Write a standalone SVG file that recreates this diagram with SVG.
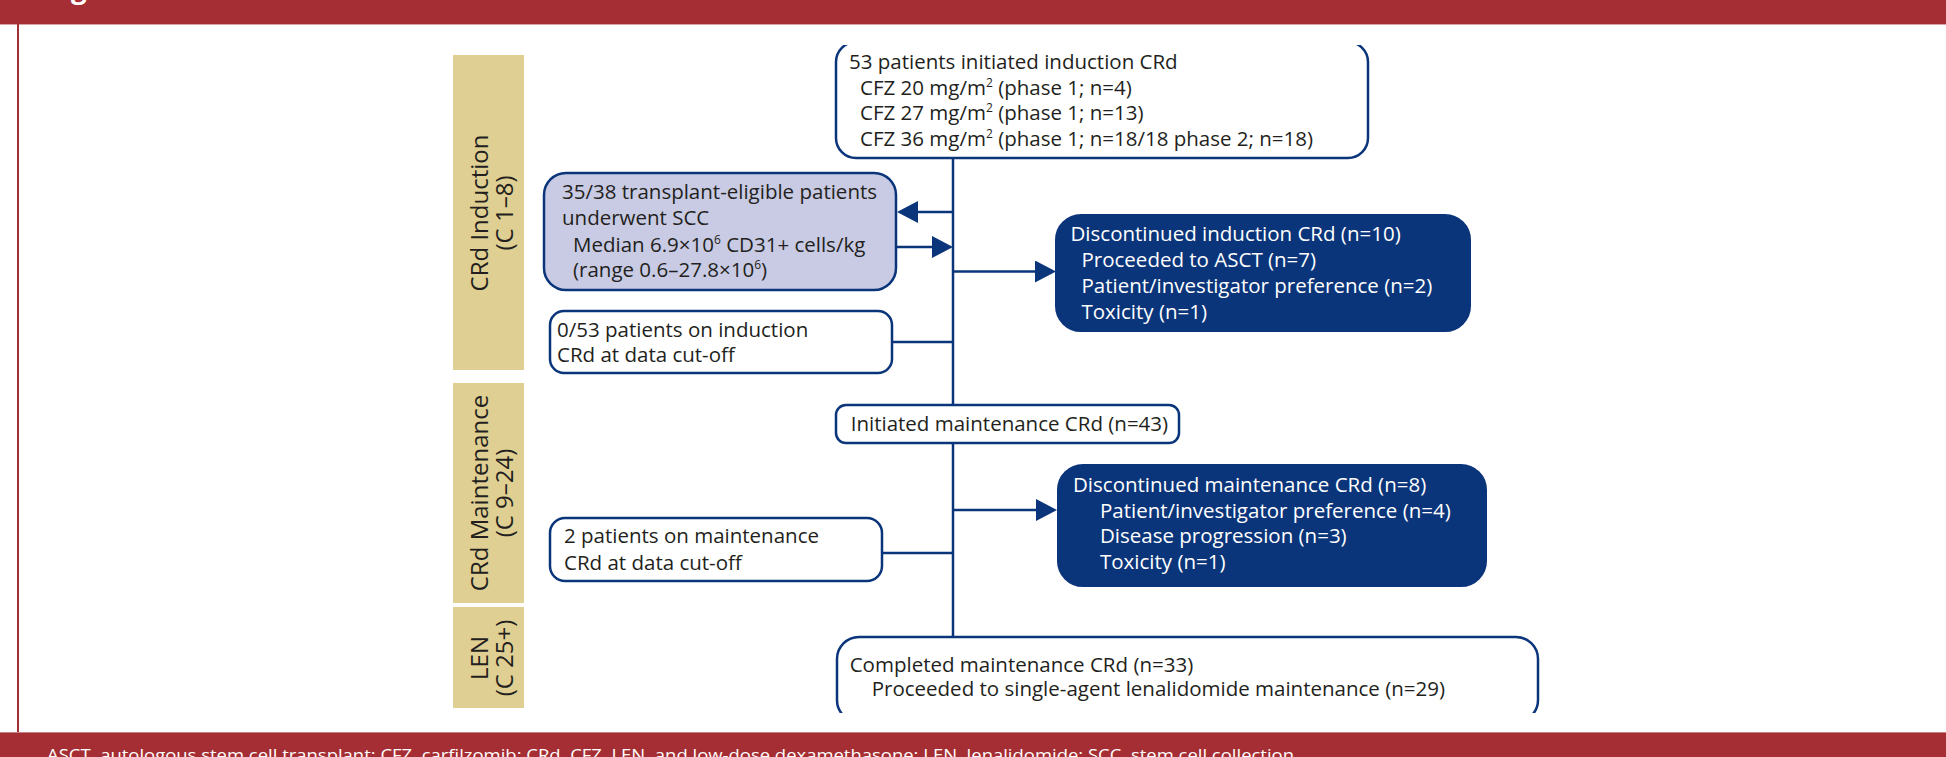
<svg xmlns="http://www.w3.org/2000/svg" width="1946" height="757" viewBox="0 0 1946 757">
<defs>
<style>
.t{font-family:"Open Sans","Noto Sans",sans-serif;font-size:20.5px;fill:#231f20}
.w{font-family:"Open Sans","Noto Sans",sans-serif;font-size:20.5px;fill:#ffffff}
.tan{fill:#e0cf92}
.lab{font-family:"Open Sans","Noto Sans",sans-serif;font-size:24px;fill:#231f20;text-anchor:middle}
.box{fill:#ffffff;stroke:#0b357a;stroke-width:2.5}
.lav{fill:#c8cbe3;stroke:#0b357a;stroke-width:2.5}
.dark{fill:#0b357a;stroke:#0b357a;stroke-width:2}
.ln{stroke:#0b357a;stroke-width:2.5;fill:none}
.sup{font-size:12px}
</style>
<marker id="ah" markerUnits="userSpaceOnUse" markerWidth="22" markerHeight="24" refX="0" refY="11" orient="auto">
<path d="M0,0 L21,11 L0,22 z" fill="#0b357a"/>
</marker>
<clipPath id="clip"><rect x="0" y="45" width="1946" height="668"/></clipPath>
</defs>
<rect x="0" y="0" width="1946" height="757" fill="#ffffff"/>
<g id="frame">
<rect x="0" y="0" width="1946" height="24" fill="#a52e34"/>
<rect x="0" y="24" width="1946" height="1" fill="#d9a3a6"/>
<text x="47" y="-2" font-family="'Open Sans','Noto Sans',sans-serif" font-size="28" font-weight="bold" fill="#ffffff">Figure</text>
<rect x="17" y="24" width="2" height="708" fill="#a52e34"/>
<rect x="0" y="732" width="1946" height="25" fill="#a52e34"/>
<rect x="0" y="732" width="1946" height="1" fill="#c98084"/>
<text x="47" y="761" font-family="'Open Sans','Noto Sans',sans-serif" font-size="17" fill="#ffffff" textLength="1247" lengthAdjust="spacingAndGlyphs">ASCT, autologous stem cell transplant; CFZ, carfilzomib; CRd, CFZ, LEN, and low-dose dexamethasone; LEN, lenalidomide; SCC, stem cell collection</text>
</g>
<g clip-path="url(#clip)">
<g id="phase-induction">
<rect class="tan" x="453" y="55" width="71" height="315"/>
<text class="lab" transform="translate(488,213) rotate(-90)">CRd Induction</text>
<text class="lab" transform="translate(513,213) rotate(-90)">(C 1–8)</text>
</g>
<g id="phase-maintenance">
<rect class="tan" x="453" y="383" width="71" height="220"/>
<text class="lab" transform="translate(488,493) rotate(-90)">CRd Maintenance</text>
<text class="lab" transform="translate(513,493) rotate(-90)">(C 9–24)</text>
</g>
<g id="phase-len">
<rect class="tan" x="453" y="607" width="71" height="101"/>
<text class="lab" transform="translate(488,658) rotate(-90)">LEN</text>
<text class="lab" transform="translate(513,658) rotate(-90)">(C 25+)</text>
</g>
<g id="connectors">
<line class="ln" x1="953" y1="158" x2="953" y2="637"/>
<line class="ln" x1="953" y1="212" x2="918" y2="212" marker-end="url(#ah)"/>
<line class="ln" x1="896" y1="247" x2="932" y2="247" marker-end="url(#ah)"/>
<line class="ln" x1="953" y1="271.5" x2="1035" y2="271.5" marker-end="url(#ah)"/>
<line class="ln" x1="892" y1="342" x2="953" y2="342"/>
<line class="ln" x1="953" y1="510" x2="1036" y2="510" marker-end="url(#ah)"/>
<line class="ln" x1="882" y1="553" x2="953" y2="553"/>
</g>
<g id="n-initiated-induction">
<rect class="box" x="836" y="42" width="532" height="116" rx="20"/>
<text class="t" x="849" y="69.3">53 patients initiated induction CRd</text>
<text class="t" x="860" y="95">CFZ 20 mg/m<tspan class="sup" dy="-8">2</tspan><tspan dy="8"> (phase 1; n=4)</tspan></text>
<text class="t" x="860" y="120.3">CFZ 27 mg/m<tspan class="sup" dy="-8">2</tspan><tspan dy="8"> (phase 1; n=13)</tspan></text>
<text class="t" x="860" y="145.6">CFZ 36 mg/m<tspan class="sup" dy="-8">2</tspan><tspan dy="8"> (phase 1; n=18/18 phase 2; n=18)</tspan></text>
</g>
<g id="n-scc">
<rect class="lav" x="544" y="173" width="352" height="117" rx="22"/>
<text class="t" x="562" y="199">35/38 transplant-eligible patients</text>
<text class="t" x="562" y="225">underwent SCC</text>
<text class="t" x="573" y="251.5">Median 6.9×10<tspan class="sup" dy="-8">6</tspan><tspan dy="8"> CD31+ cells/kg</tspan></text>
<text class="t" x="573" y="277">(range 0.6–27.8×10<tspan class="sup" dy="-8">6</tspan><tspan dy="8">)</tspan></text>
</g>
<g id="n-disc-induction">
<rect class="dark" x="1056" y="215" width="414" height="116" rx="25"/>
<text class="w" x="1070.5" y="240.7">Discontinued induction CRd (n=10)</text>
<text class="w" x="1081.5" y="266.7">Proceeded to ASCT (n=7)</text>
<text class="w" x="1081.5" y="293">Patient/investigator preference (n=2)</text>
<text class="w" x="1081.5" y="319.3">Toxicity (n=1)</text>
</g>
<g id="n-on-induction">
<rect class="box" x="550" y="311" width="342" height="62" rx="14"/>
<text class="t" x="557" y="336.7">0/53 patients on induction</text>
<text class="t" x="557" y="361.7">CRd at data cut-off</text>
</g>
<g id="n-initiated-maintenance">
<rect class="box" x="836" y="405" width="343" height="38" rx="10"/>
<text class="t" x="850.7" y="431">Initiated maintenance CRd (n=43)</text>
</g>
<g id="n-disc-maintenance">
<rect class="dark" x="1058" y="465" width="428" height="121" rx="25"/>
<text class="w" x="1073" y="491.7">Discontinued maintenance CRd (n=8)</text>
<text class="w" x="1100" y="517.7">Patient/investigator preference (n=4)</text>
<text class="w" x="1100" y="543.3">Disease progression (n=3)</text>
<text class="w" x="1100" y="569">Toxicity (n=1)</text>
</g>
<g id="n-on-maintenance">
<rect class="box" x="550" y="518" width="332" height="63" rx="15"/>
<text class="t" x="564" y="543.3">2 patients on maintenance</text>
<text class="t" x="564" y="570">CRd at data cut-off</text>
</g>
<g id="n-completed">
<rect class="box" x="837" y="637" width="701" height="85" rx="22"/>
<text class="t" x="849.7" y="671.7">Completed maintenance CRd (n=33)</text>
<text class="t" x="871.7" y="696">Proceeded to single-agent lenalidomide maintenance (n=29)</text>
</g>
</g>
</svg>
